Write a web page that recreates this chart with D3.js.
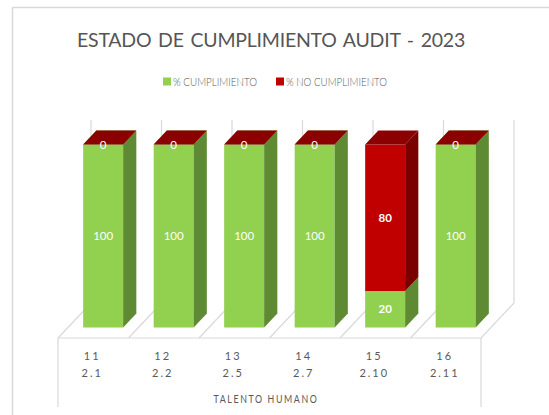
<!DOCTYPE html>
<html><head><meta charset="utf-8">
<script src="https://cdn.jsdelivr.net/npm/d3@7"></script>
<style>body{margin:0;background:#fff}svg{display:block}</style>
</head><body>
<svg id="c" width="549" height="415"></svg>
<script>
const codes = ["11", "12", "13", "14", "15", "16"];
const items = ["2.1", "2.2", "2.5", "2.7", "2.10", "2.11"];
const cumplimiento = [100, 100, 100, 100, 20, 100];
const noCumplimiento = [0, 0, 0, 0, 80, 0];
const seriesNames = ["% CUMPLIMIENTO", "% NO CUMPLIMIENTO"];
const groupLabel = "TALENTO HUMANO";
const title = "ESTADO DE CUMPLIMIENTO AUDIT - 2023";

const svg = d3.select("#c");
const font = "Lato, 'Open Sans', sans-serif";
const grid = "#d9d9d9";

// chart border
svg.append("rect").attr("x", 12.5).attr("y", 7.5).attr("width", 600).attr("height", 500)
  .attr("fill", "#fff").attr("stroke", grid).attr("stroke-width", 1.5);

// title, letter spacing tuned so its drawn width matches the reference
const t = svg.append("text").attr("x", 271).attr("y", 47).attr("text-anchor", "middle")
  .attr("font-family", font).attr("font-size", 19.5).attr("fill", "#555").attr("word-spacing", 2).text(title);
let ls = 0;
for (let k = 0; k < 5; k++) {
  t.attr("letter-spacing", ls);
  const w = t.node().getBBox().width;
  ls = ls + (388 - w) / title.length;
}
t.attr("letter-spacing", ls);
const bb = t.node().getBBox();
t.attr("x", 271 + (271 - (bb.x + bb.width / 2)));

// legend
const legendColors = ["#92d050", "#c00000"];
const legX = [163, 276], legTL = [84, 101];
seriesNames.forEach((n, i) => {
  svg.append("rect").attr("x", legX[i]).attr("y", 77.5).attr("width", 8).attr("height", 8).attr("fill", legendColors[i]);
  svg.append("text").attr("x", legX[i] + 10).attr("y", 86).attr("font-family", font).attr("font-size", 11.5)
    .attr("font-weight", 300)
    .attr("fill", "#595959").attr("textLength", legTL[i]).attr("lengthAdjust", "spacingAndGlyphs").text(n);
});

// scales
const x = d3.scaleBand().domain(codes).range([58, 481]).paddingInner(0.433).paddingOuter(0.2165);
const y = d3.scaleLinear().domain([0, 100]).range([338, 155]);
const OX = 33, OY = 35;
const P = (px, py, t) => [px + t * OX, py - t * OY];
const step = x.step();
const bounds = d3.range(codes.length + 1).map(i => 58 + i * step);

const line = (a, b) => svg.append("line").attr("x1", a[0]).attr("y1", a[1]).attr("x2", b[0]).attr("y2", b[1])
  .attr("stroke", grid).attr("stroke-width", 1.2);

// back wall vertical lines
bounds.forEach(b => line(P(b, y(0), 1), P(b, y(100), 1)));
// floor diagonals
bounds.forEach(b => line(P(b, y(0), 0), P(b, y(0), 1)));
// floor front edge
line(P(bounds[0], y(0), 0), P(bounds[bounds.length - 1], y(0), 0));
// front label box sides
line([bounds[0], y(0)], [bounds[0], 407]);
line([bounds[bounds.length - 1], y(0)], [bounds[bounds.length - 1], 407]);

// bars
const T0 = 0.3, T1 = 0.7;
const colors = [
  {front: "#92d050", side: "#5e8a33", top: "#7aad42"},
  {front: "#c00000", side: "#7a0000", top: "#8b0000"}
];
const poly = (pts, fill) => svg.append("polygon").attr("points", pts.map(p => p.join(",")).join(" ")).attr("fill", fill);

codes.forEach((c, i) => {
  const vals = [cumplimiento[i], noCumplimiento[i]];
  let base = 0;
  const x0 = x(c), x1 = x(c) + x.bandwidth();
  vals.forEach((v, s) => {
    const yb = y(base), yt = y(base + v);
    const col = colors[s];
    poly([P(x0, yb, T0), P(x1, yb, T0), P(x1, yt, T0), P(x0, yt, T0)], col.front);
    poly([P(x1, yb, T0), P(x1, yb, T1), P(x1, yt, T1), P(x1, yt, T0)], col.side);
    poly([P(x0, yt, T0), P(x1, yt, T0), P(x1, yt, T1), P(x0, yt, T1)], col.top);
    base += v;
  });
  base = 0;
  vals.forEach((v, s) => {
    const cx = P((x0 + x1) / 2, y(base + v / 2), T0);
    svg.append("text").attr("x", cx[0]).attr("y", cx[1] + 4).attr("text-anchor", "middle")
      .attr("font-family", font).attr("font-size", 11.5).attr("font-weight", v === 20 || v === 80 ? "bold" : "normal")
      .attr("fill", "#fff").text(v);
    base += v;
  });
  // category labels
  const cxl = x(c) + x.bandwidth() / 2 - 1;
  svg.append("text").attr("x", cxl).attr("y", 360).attr("text-anchor", "middle").attr("font-family", font)
    .attr("font-size", 11).attr("fill", "#595959").attr("letter-spacing", 2).text(c);
  svg.append("text").attr("x", cxl).attr("y", 377).attr("text-anchor", "middle").attr("font-family", font)
    .attr("font-size", 11).attr("fill", "#595959").attr("letter-spacing", 2).text(items[i]);
});

svg.append("text").attr("x", 266).attr("y", 403).attr("text-anchor", "middle").attr("font-family", font)
  .attr("font-size", 11).attr("fill", "#595959").attr("letter-spacing", 2)
  .attr("textLength", 105).attr("lengthAdjust", "spacingAndGlyphs").text(groupLabel);
</script>
</body></html>
